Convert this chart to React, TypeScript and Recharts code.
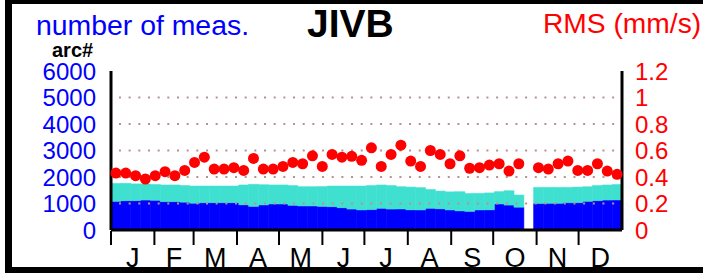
import { ComposedChart, Bar, Line, XAxis, YAxis, ReferenceLine } from 'recharts';

// weekly values, slot 43 (index 42) has no data
const blueCount = [
  1080, 1107, 1107, 1130, 1120, 1070, 1070, 1050, 1010, 1031, 1031, 1031, 1031,
  950, 890, 943, 981, 981, 930, 906, 906, 890, 880, 840, 790, 755,
  770, 818, 790, 792, 760, 755, 818, 800, 755, 720, 700, 755, 760, 981, 940, 860,
  null, 1000, 1006, 1006, 1031, 1031, 1080, 1107, 1130, 1132,
];

const totalCount = [
  1760, 1760, 1740, 1735, 1720, 1700, 1700, 1680, 1660, 1660, 1660, 1660, 1660,
  1700, 1725, 1710, 1700, 1700, 1680, 1635, 1635, 1640, 1660, 1660, 1660, 1660,
  1680, 1700, 1680, 1635, 1620, 1600, 1530, 1470, 1440, 1447, 1380, 1384, 1400, 1450, 1484, 1320,
  null, 1610, 1610, 1610, 1610, 1620, 1635, 1680, 1700, 1720,
];

const rms = [
  0.43, 0.43, 0.41, 0.385, 0.41, 0.44, 0.41, 0.45, 0.51, 0.55, 0.46, 0.46, 0.47,
  0.45, 0.54, 0.46, 0.46, 0.48, 0.51, 0.5, 0.56, 0.48, 0.57, 0.55, 0.556, 0.526,
  0.62, 0.48, 0.57, 0.64, 0.52, 0.48, 0.6, 0.57, 0.5, 0.56, 0.466, 0.47, 0.49, 0.5, 0.445, 0.5,
  null, 0.47, 0.46, 0.5, 0.52, 0.45, 0.45, 0.5, 0.445, 0.42,
];

const monthLabels = ['J', 'F', 'M', 'A', 'M', 'J', 'J', 'A', 'S', 'O', 'N', 'D'];
const monthDays = [31, 28, 31, 30, 31, 30, 31, 31, 30, 31, 30, 31];

const countTicks = [0, 1000, 2000, 3000, 4000, 5000, 6000];
const gridValues = [1000, 2000, 3000, 4000, 5000];
const rmsTicks = [0, 0.2, 0.4, 0.6, 0.8, 1, 1.2];

const data = blueCount.map((b, i) => ({
  week: i + 1,
  day: i * 7 + 3.5,
  blue: b,
  teal: b == null || totalCount[i] == null ? null : (totalCount[i] as number) - b,
  rms: rms[i],
}));

const monthStarts: number[] = [];
const monthMids: number[] = [];
let day = 0;
monthDays.forEach((d) => {
  monthStarts.push(day);
  monthMids.push(day + d / 2);
  day += d;
});
const monthTicks = [...monthStarts, ...monthMids].sort((a, b) => a - b);

const FONT = '"Liberation Sans", Arial, sans-serif';

function MonthTick(props: any) {
  const { x, y, payload } = props;
  const v = payload.value;
  if (monthStarts.indexOf(v) >= 0) {
    return <line x1={x} x2={x} y1={y + 1} y2={y + 15} stroke="#000" strokeWidth={2} />;
  }
  const mi = monthMids.indexOf(v);
  return (
    <text x={x} y={y + 37} textAnchor="middle" fontSize={27} fontFamily={FONT} fill="#000">
      {monthLabels[mi]}
    </text>
  );
}

export default function App() {
  return (
    <div style={{ position: 'absolute', left: 0, top: 0, width: 703, height: 273, overflow: 'hidden', background: '#fff' }}>
      <div
        style={{
          position: 'absolute',
          left: 5,
          top: -3,
          width: 720,
          height: 277,
          border: '7px solid #000',
          boxSizing: 'border-box',
        }}
      />
      <div style={{ position: 'absolute', left: 0, top: 0 }}>
        <ComposedChart
          width={703}
          height={273}
          data={data}
          margin={{ top: 71, right: 0, bottom: 0, left: 0 }}
          barCategoryGap={0}
          barGap={0}
        >
          <XAxis
            xAxisId="week"
            dataKey="week"
            orientation="top"
            height={0}
            tick={false}
            tickLine={false}
            axisLine={{ stroke: '#000', strokeWidth: 3 }}
          />
          <XAxis
            xAxisId="month"
            dataKey="day"
            type="number"
            domain={[0, 365]}
            allowDataOverflow
            ticks={monthTicks}
            interval={0}
            height={43}
            tickSize={0}
            tickMargin={0}
            tickLine={false}
            tick={<MonthTick />}
            axisLine={{ stroke: '#000', strokeWidth: 3 }}
          />
          <YAxis
            yAxisId="count"
            domain={[0, 6000]}
            ticks={countTicks}
            interval={0}
            width={111}
            tickSize={0}
            tickMargin={15}
            tickLine={false}
            axisLine={{ stroke: '#000', strokeWidth: 3 }}
            tick={{ fill: '#0000ff', fontSize: 24, fontFamily: FONT }}
          />
          <YAxis
            yAxisId="rms"
            orientation="right"
            domain={[0, 1.2]}
            ticks={rmsTicks}
            interval={0}
            width={81}
            tickSize={0}
            tickMargin={13}
            tickLine={false}
            axisLine={{ stroke: '#000', strokeWidth: 3 }}
            tick={{ fill: '#ff0000', fontSize: 24, fontFamily: FONT }}
          />
          <Bar
            xAxisId="week"
            yAxisId="count"
            dataKey="blue"
            stackId="n"
            fill="#0000ff"
            stroke="#0000ff"
            strokeWidth={0.5}
            isAnimationActive={false}
          />
          <Bar
            xAxisId="week"
            yAxisId="count"
            dataKey="teal"
            stackId="n"
            fill="#40e0d0"
            stroke="#40e0d0"
            strokeWidth={0.5}
            isAnimationActive={false}
          />
          {gridValues.map((v) => (
            <ReferenceLine
              key={v}
              xAxisId="week"
              yAxisId="count"
              y={v}
              stroke="#bc8f8f"
              strokeWidth={2}
              strokeDasharray="2 7.67"
              strokeDashoffset={1.7}
            />
          ))}
          <Line
            xAxisId="week"
            yAxisId="rms"
            dataKey="rms"
            stroke="none"
            dot={{ r: 5.5, fill: '#ff0000', stroke: 'none' }}
            activeDot={false}
            isAnimationActive={false}
          />
        </ComposedChart>
      </div>
      <svg width={703} height={273} style={{ position: 'absolute', left: 0, top: 0, pointerEvents: 'none' }}>
        <text x={36} y={35} fontSize={28.4} fontFamily={FONT} fill="#0000ff">
          number of meas.
        </text>
        <text x={307} y={37} fontSize={39} fontWeight="bold" fontFamily={FONT} fill="#000">
          JIVB
        </text>
        <text x={543} y={32.5} fontSize={28.2} fontFamily={FONT} fill="#ff0000">
          RMS (mm/s)
        </text>
        <text x={52} y={56.5} fontSize={20} fontWeight="bold" fontFamily={FONT} fill="#000">
          arc#
        </text>
      </svg>
    </div>
  );
}
